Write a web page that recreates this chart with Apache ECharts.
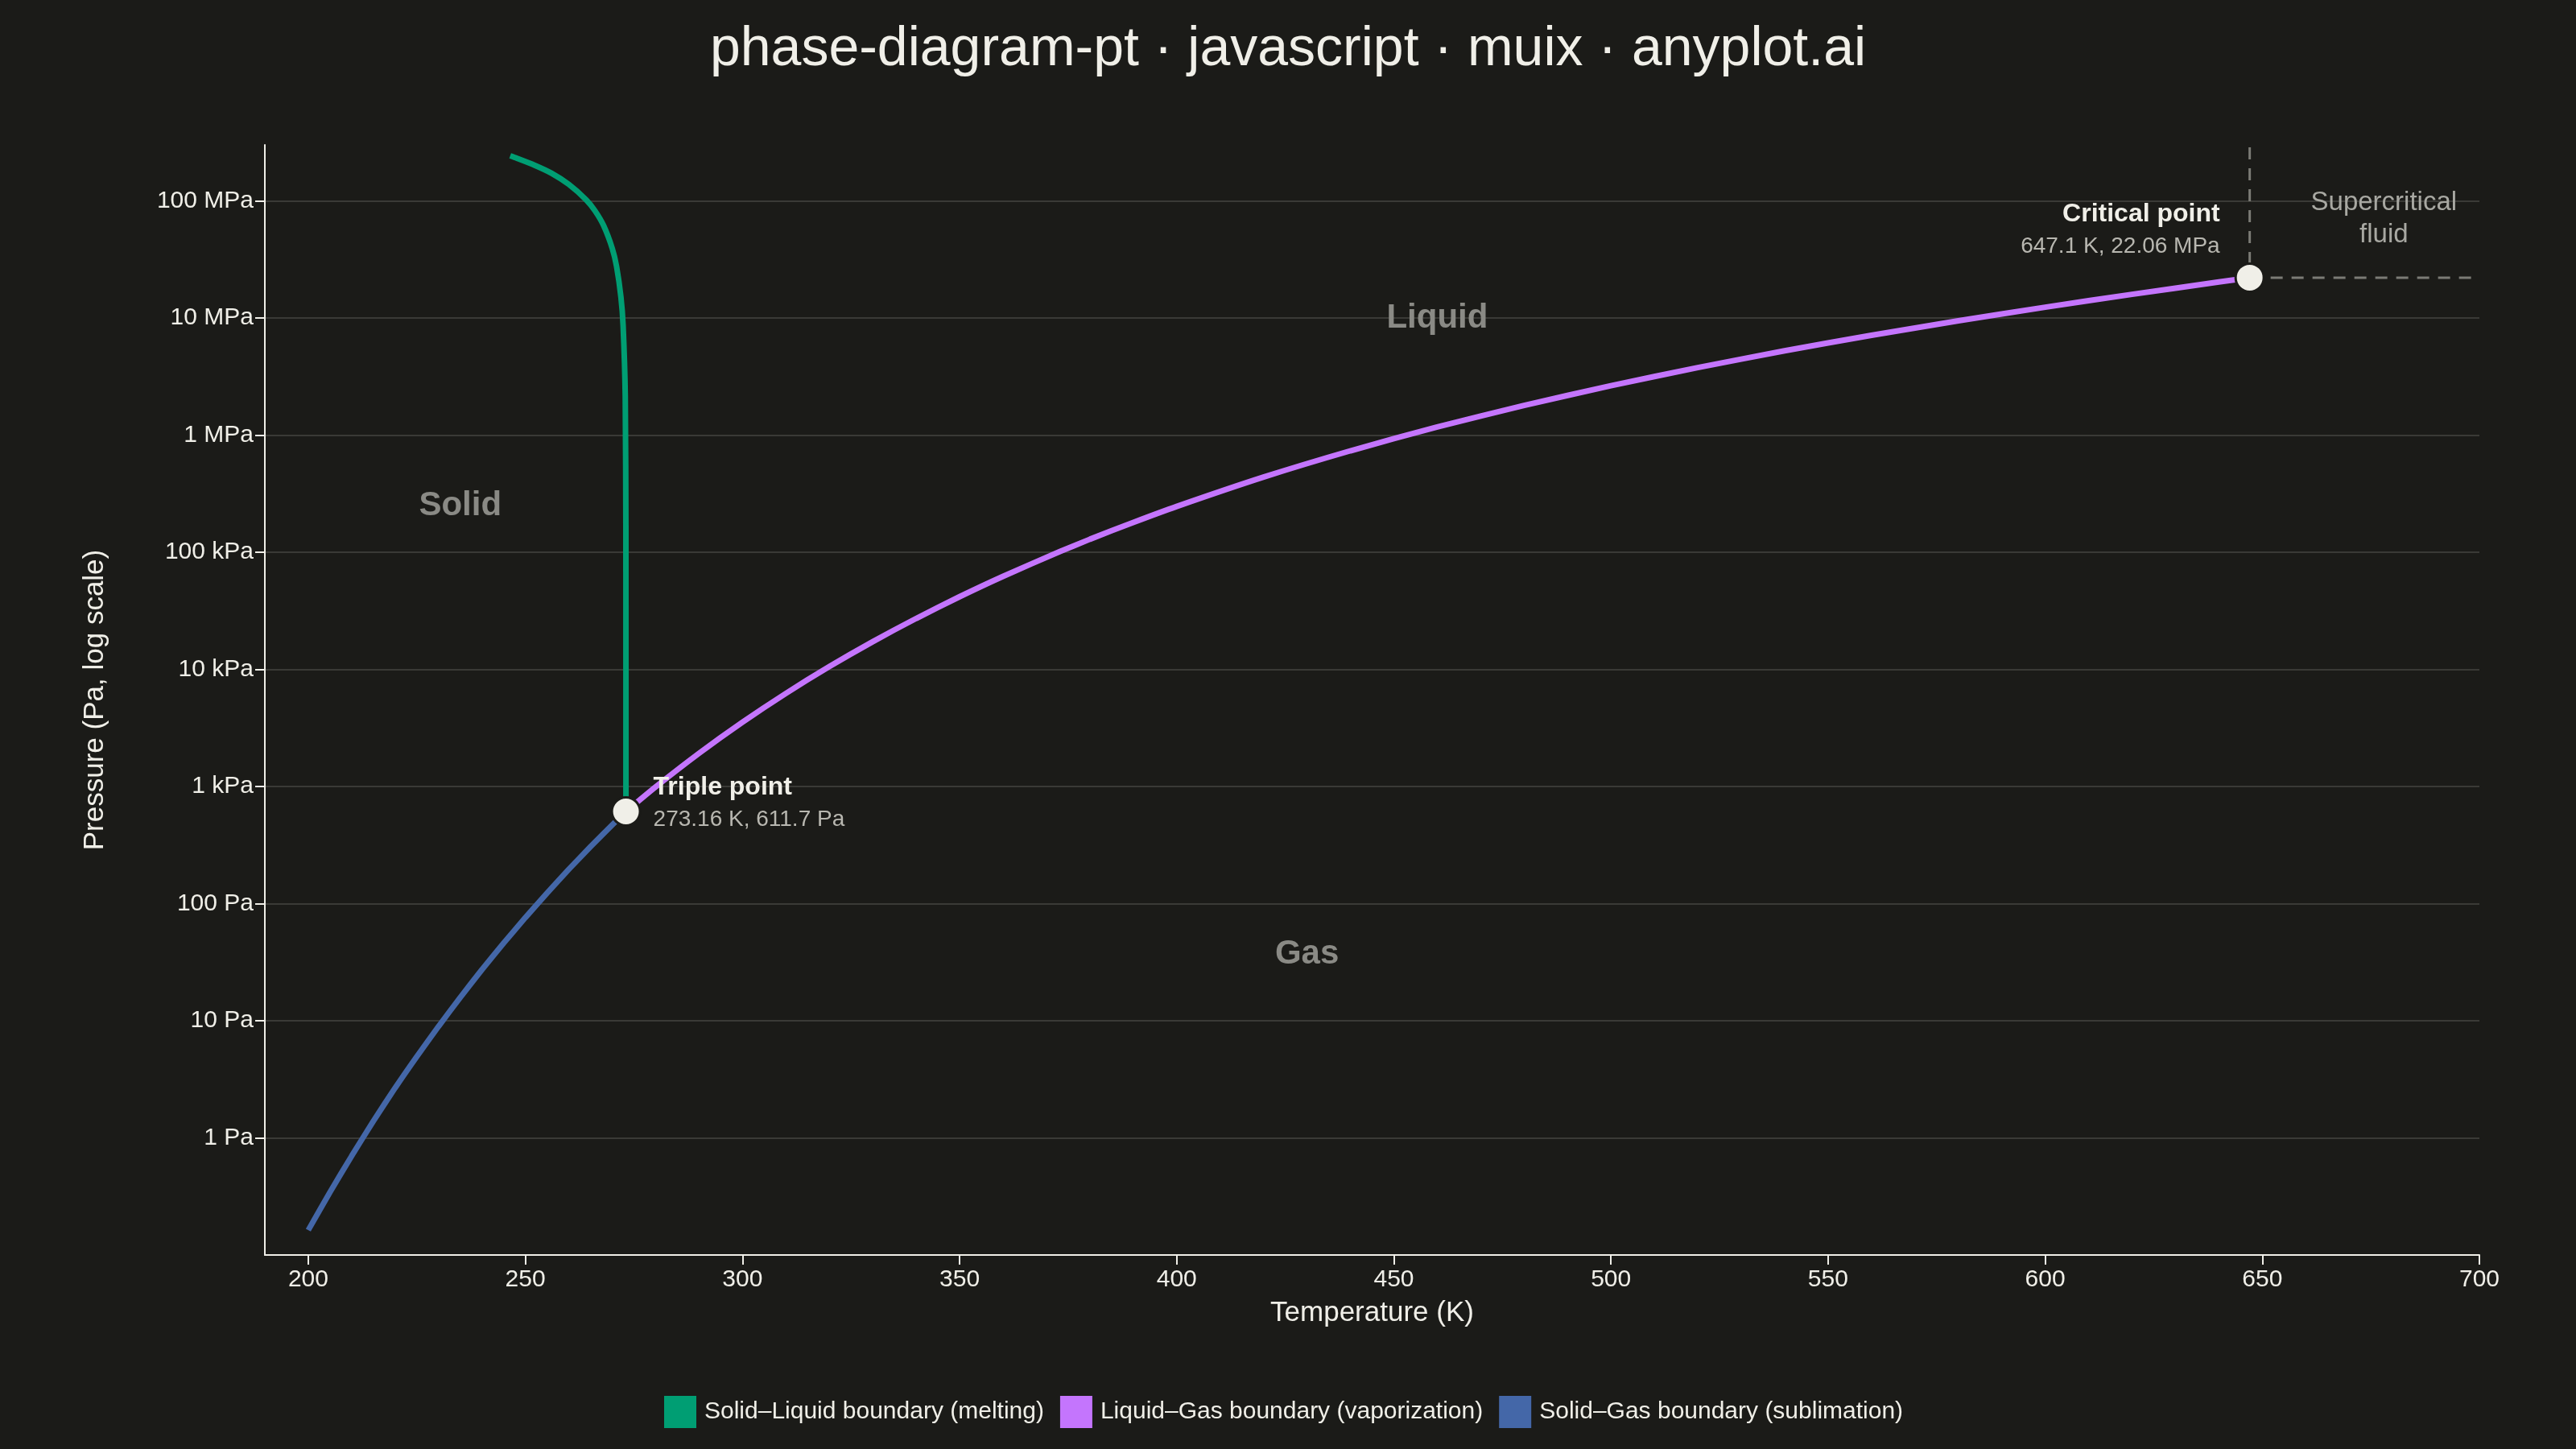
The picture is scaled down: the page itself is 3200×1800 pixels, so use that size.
<!DOCTYPE html>
<html>
<head>
<meta charset="utf-8">
<title>phase-diagram-pt</title>
<script src="https://cdn.jsdelivr.net/npm/echarts@6/dist/echarts.min.js"></script>
<style>
    html, body { margin: 0; padding: 0; background: #1b1b18; }
    #chart { width: 3200px; height: 1800px; }
</style>
</head>
<body>
<div id="chart"></div>
<script>
// water phase boundaries, T in K, P in Pa
var meltT = [273.16, 273.15, 273.0, 272.5, 272, 271, 270, 268, 266, 264, 260, 256, 252, 248, 246.5];
var meltP = [611.7, 1.35e5, 2.15e6, 8.7e6, 1.51e7, 2.75e7, 3.93e7, 6.16e7, 8.24e7, 1.02e8, 1.38e8, 1.72e8, 2.02e8, 2.31e8, 2.42e8];

var vapT = [273.16, 280, 290, 300, 310, 320, 330, 340, 350, 360, 373.15, 380, 390, 400, 420, 440, 460, 480, 500, 520, 540, 560, 580, 600, 620, 640, 647.1];
var vapP = [611.7, 991.8, 1920, 3537, 6231, 10546, 17213, 27188, 41682, 62194, 101418, 128960, 179500, 245770, 437630, 733680, 1174000, 1790500, 2639200, 3769000, 5236900, 7106200, 9448000, 12345000, 15901000, 20265000, 22064000];

var subT = [200, 205, 210, 215, 220, 225, 230, 235, 240, 245, 250, 255, 260, 265, 270, 273.16];
var subP = [0.163, 0.344, 0.701, 1.39, 2.67, 4.95, 8.94, 15.8, 27.3, 46.0, 76.0, 123, 196, 306, 470, 611.7];

var tripleT = 273.16, tripleP = 611.7;
var critT = 647.1, critP = 22.06e6;

var xTicks = [200, 250, 300, 350, 400, 450, 500, 550, 600, 650, 700];
var yTickValues = [1, 10, 100, 1e3, 1e4, 1e5, 1e6, 1e7, 1e8];
var yTickLabels = ['1 Pa', '10 Pa', '100 Pa', '1 kPa', '10 kPa', '100 kPa', '1 MPa', '10 MPa', '100 MPa'];

var regionNames = ['Solid', 'Liquid', 'Gas'];
var regionT = [235, 460, 430];
var regionP = [2.5e5, 1.0e7, 37];
var superT = 678, superP = 7.0e7;

var xMin = 190, xMax = 700, yMin = 0.1, yMax = 3e8;

var textColor = '#f0efe8';
var bgColor = '#1b1b18';

function pairs(xs, ys) {
    var out = [];
    for (var i = 0; i < xs.length; i++) out.push([xs[i], ys[i]]);
    return out;
}

var chart = echarts.init(document.getElementById('chart'));

var curveNames = ['Solid–Liquid boundary (melting)', 'Liquid–Gas boundary (vaporization)', 'Solid–Gas boundary (sublimation)'];
var curveColors = ['#009e73', '#c475fd', '#4467a8'];
var curveData = [pairs(meltT, meltP), pairs(vapT, vapP), pairs(subT, subP)];

var series = [];

// dashed guides at the critical point
series.push({
    type: 'line', silent: true, showSymbol: false, z: 1,
    data: [[critT, critP], [critT, yMax]],
    lineStyle: { color: '#7b7b75', width: 3, type: [15, 11], dashOffset: 9 }
});
series.push({
    type: 'line', silent: true, showSymbol: false, z: 1,
    data: [[critT, critP], [xMax, critP]],
    lineStyle: { color: '#7b7b75', width: 3, type: [15, 11] }
});

for (var i = 0; i < curveNames.length; i++) {
    series.push({
        name: curveNames[i],
        type: 'line',
        showSymbol: false,
        smooth: 0.2,
        z: 3,
        data: curveData[i],
        itemStyle: { color: curveColors[i] },
        lineStyle: { color: curveColors[i], width: 7 }
    });
}

// triple and critical points
series.push({
    type: 'scatter', z: 5, symbolSize: 35,
    itemStyle: { color: textColor, borderColor: bgColor, borderWidth: 3, opacity: 1 },
    data: [{
        value: [tripleT, tripleP],
        label: {
            show: true, position: 'right', distance: 15, offset: [0, -10],
            formatter: '{t|Triple point}\n{s|273.16 K, 611.7 Pa}',
            rich: {
                t: { fontSize: 32, fontWeight: 'bold', color: textColor, lineHeight: 40 },
                s: { fontSize: 28, color: '#b8b7b0', lineHeight: 40 }
            }
        }
    }, {
        value: [critT, critP],
        label: {
            show: true, position: 'left', distance: 18, offset: [0, -59], align: 'right',
            formatter: '{t|Critical point}\n{s|647.1 K, 22.06 MPa}',
            rich: {
                t: { fontSize: 32, fontWeight: 'bold', color: textColor, lineHeight: 40, align: 'right' },
                s: { fontSize: 28, color: '#b8b7b0', lineHeight: 40, align: 'right' }
            }
        }
    }]
});

// region labels
var regionData = [];
for (var j = 0; j < regionNames.length; j++) {
    regionData.push({ value: [regionT[j], regionP[j]], name: regionNames[j] });
}
regionData.push({
    value: [superT, superP], name: 'Supercritical\nfluid',
    label: { fontWeight: 'normal', fontSize: 33, lineHeight: 40, color: '#a8a8a2' }
});
series.push({
    type: 'scatter', silent: true, symbolSize: 0, z: 2,
    itemStyle: { opacity: 1 },
    data: regionData,
    label: {
        show: true, position: 'inside',
        formatter: function (p) { return p.name; },
        fontSize: 42, fontWeight: 'bold', color: '#8a8a85'
    }
});

var option = {
    backgroundColor: bgColor,
    animation: false,
    textStyle: { fontFamily: 'Liberation Sans, Arial, sans-serif' },
    title: {
        text: 'phase-diagram-pt · javascript · muix · anyplot.ai',
        left: 'center', top: 23,
        textStyle: { fontSize: 68, fontWeight: 'normal', color: textColor }
    },
    legend: {
        data: curveNames,
        top: 1729, left: 820,
        icon: 'rect', itemWidth: 40, itemHeight: 40, itemGap: 20,
        textStyle: { fontSize: 30, color: textColor, padding: [0, 0, 0, 5] }
    },
    grid: { left: 329, right: 120, top: 180, bottom: 241 },
    xAxis: {
        type: 'value', min: xMin, max: xMax,
        name: 'Temperature (K)', nameLocation: 'middle', nameGap: 55,
        nameTextStyle: { fontSize: 35, color: textColor },
        axisLine: { show: true, lineStyle: { color: textColor, width: 2 } },
        axisTick: { show: true, length: 12, customValues: xTicks, lineStyle: { color: textColor, width: 2 } },
        axisLabel: { fontSize: 30, color: textColor, margin: 16, customValues: xTicks },
        splitLine: { show: false }
    },
    yAxis: {
        type: 'log', logBase: 10, min: yMin, max: yMax,
        name: 'Pressure (Pa, log scale)', nameLocation: 'middle', nameGap: 193,
        nameTextStyle: { fontSize: 35, color: textColor },
        axisLine: { show: true, lineStyle: { color: textColor, width: 2 } },
        axisTick: { show: true, length: 12, customValues: yTickValues, lineStyle: { color: textColor, width: 2 } },
        axisLabel: {
            fontSize: 30, color: textColor, margin: 14, customValues: yTickValues,
            formatter: function (v) {
                for (var k = 0; k < yTickValues.length; k++) {
                    if (Math.abs(Math.log10(v) - Math.log10(yTickValues[k])) < 1e-6) return yTickLabels[k];
                }
                return '';
            }
        },
        splitLine: { show: true, lineStyle: { color: '#3a3a36', width: 2 } }
    },
    series: series
};

chart.setOption(option);
</script>
</body>
</html>
